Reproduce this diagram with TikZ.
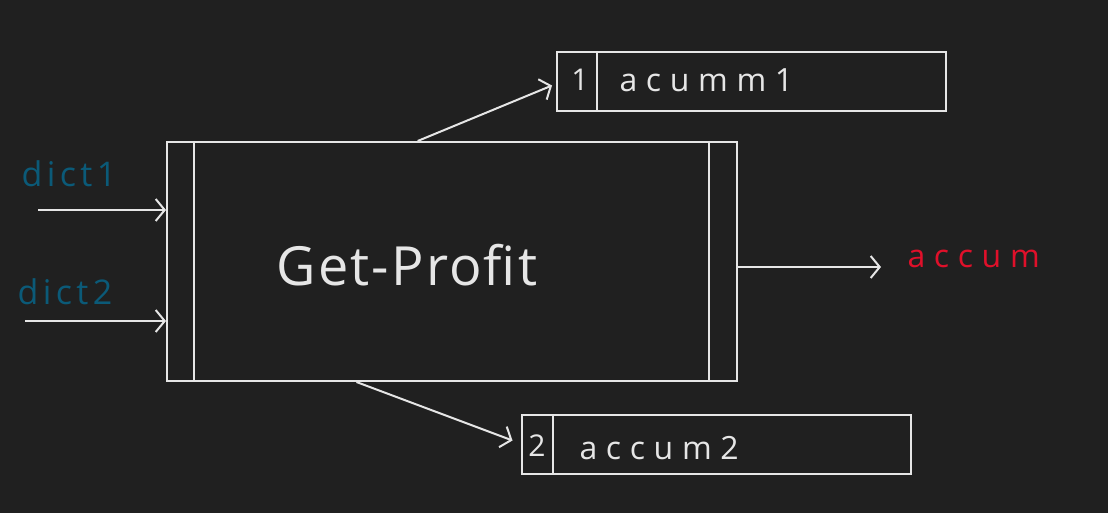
\documentclass[tikz,border=0pt]{standalone}
\usepackage{fontspec}
\setmainfont{Open Sans}
\usetikzlibrary{calc, positioning, arrows.meta}
\definecolor{board}{HTML}{202020}
\definecolor{chalk}{HTML}{E6E6E6}
\definecolor{dictcol}{HTML}{0B5A78}
\definecolor{outcol}{HTML}{E0102A}
\tikzset{
  % Set arrowhead
  >={Straight Barb[length=9pt, width=22pt, line width=2pt]},
  % Process box
  proc/.style={draw=chalk, line width=2pt, shape=rectangle, inner sep=0pt},
  % Store box
  store/.style={draw=chalk, line width=2pt, shape=rectangle, inner sep=0pt,
    minimum width=389pt, minimum height=59pt},
  % Bar inside a box
  bar/.style={draw=chalk, line width=2pt},
  % Arrows
  flow/.style={->, draw=chalk, line width=2pt},
  % Labels
  inlabel/.style={text=dictcol, anchor=west,
    font=\fontsize{34}{36}\selectfont\addfontfeature{LetterSpace=13}},
  hand/.style={text=chalk, font=\fontsize{30}{32}\selectfont},
  wide/.style={hand, anchor=west, font=\fontsize{32}{34}\selectfont\addfontfeature{LetterSpace=27}},
}

\begin{document}
\begin{tikzpicture}[x=1pt, y=-1pt]
      \fill[board] (0,0) rectangle (1108,513);
      \useasboundingbox (0,0) rectangle (1108,513);

      \node[proc, minimum width=570pt, minimum height=239pt] (getprofit) at (452,261.5) {};
      \draw[bar] ($(getprofit.north west)+(28,0)$) -- ($(getprofit.south west)+(28,0)$);
      \draw[bar] ($(getprofit.north east)+(-29,0)$) -- ($(getprofit.south east)+(-29,0)$);
      \node[text=chalk, font=\fontsize{54}{56}\selectfont\addfontfeature{LetterSpace=4}] (gptext) at (407,265) {Get-Profit};

      \node[store] (acc1) at (751.5,81.5) {};
      \draw[bar] ($(acc1.north west)+(41,0)$) -- ($(acc1.south west)+(41,0)$);
      \node[hand] (num1) at (580,80) {1};
      \node[wide] (acc1text) at (616,80) {acumm1};

      \node[store] (acc2) at (716,444.5) {};
      \draw[bar] ($(acc2.north west)+(32,0)$) -- ($(acc2.south west)+(32,0)$);
      \node[hand] (num2) at (537,446) {2};
      \node[wide] (acc2text) at (576,448) {accum2};

      \node[inlabel] (dict1) at (18,174) {dict1};
      \node[inlabel] (dict2) at (14,292) {dict2};
      \node[wide, text=outcol] (accum) at (904,259) {accum};

      \coordinate (in1) at (38,210);
      \coordinate (in2) at (25,321);
      \coordinate (out) at (881,267);
      \draw[flow] (in1) -- (in1 -| getprofit.west);
      \draw[flow] (in2) -- (in2 -| getprofit.west);
      \draw[flow] (out -| getprofit.east) -- (out);

      \draw[flow] ($(getprofit.north west)!0.44!(getprofit.north east)$) -- ($(acc1.west)+(-4,4)$);
      \draw[flow] ($(getprofit.south west)!0.333!(getprofit.south east)$) -- ($(acc2.west)+(-8,-4)$);
    \end{tikzpicture}
\end{document}
